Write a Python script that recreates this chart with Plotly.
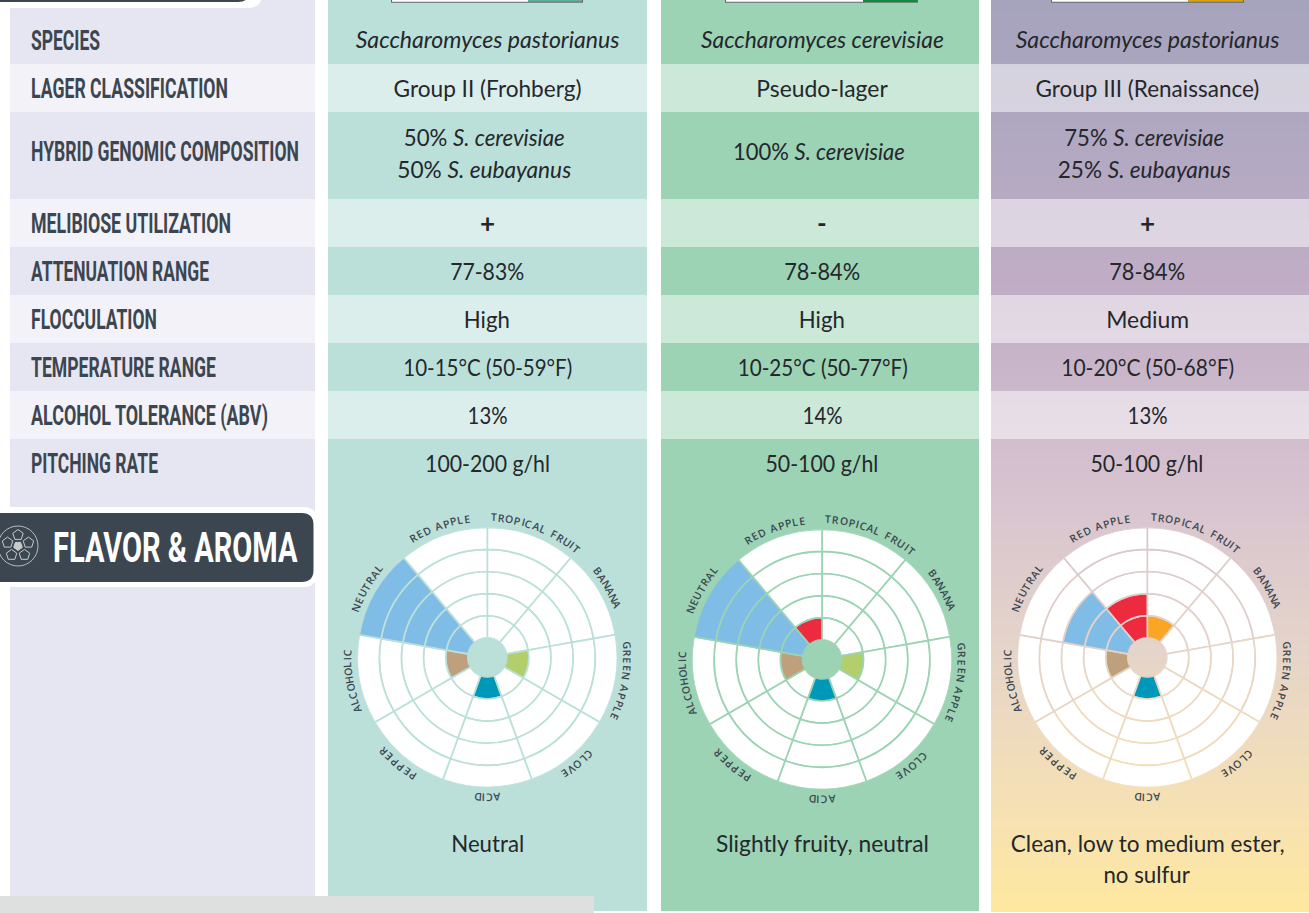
import json
import math
import plotly.graph_objects as go

W, H = 1309, 913

# ---------- data ----------
row_labels = ["SPECIES", "LAGER CLASSIFICATION", "HYBRID GENOMIC COMPOSITION", "MELIBIOSE UTILIZATION",
              "ATTENUATION RANGE", "FLOCCULATION", "TEMPERATURE RANGE", "ALCOHOL TOLERANCE (ABV)", "PITCHING RATE"]
row_label_widths = [69, 197, 268, 200, 178, 126, 185, 237, 127]
col1_values = ["<i>Saccharomyces pastorianus</i>", "Group II (Frohberg)",
               ["50% <i>S. cerevisiae</i>", "50% <i>S. eubayanus</i>"], "<b>+</b>", "77-83%", "High",
               "10-15°C (50-59°F)", "13%", "100-200 g/hl"]
col2_values = ["<i>Saccharomyces cerevisiae</i>", "Pseudo-lager", ["100% <i>S. cerevisiae</i>"], "<b>-</b>", "78-84%", "High",
               "10-25°C (50-77°F)", "14%", "50-100 g/hl"]
col3_values = ["<i>Saccharomyces pastorianus</i>", "Group III (Renaissance)",
               ["75% <i>S. cerevisiae</i>", "25% <i>S. eubayanus</i>"], "<b>+</b>", "78-84%", "Medium",
               "10-20°C (50-68°F)", "13%", "50-100 g/hl"]
flavor_categories = ["TROPICAL FRUIT", "BANANA", "GREEN APPLE", "CLOVE", "ACID", "PEPPER", "ALCOHOLIC", "NEUTRAL", "RED APPLE"]
flavor_colors = ["#faa625", "#f7d154", "#b3cf6c", "#c9a0c0", "#0098b8", "#888888", "#bfa07c", "#7fbde6", "#ee2a3f"]
col1_flavor = [0, 0, 1, 0, 1, 0, 1, 5, 0]
col2_flavor = [0, 0, 1, 0, 1, 0, 1, 5, 1]
col3_flavor = [1, 0, 0, 0, 1, 0, 1, 3, 2]
col1_note = ["Neutral"]
col2_note = ["Slightly fruity, neutral"]
col3_note = ["Clean, low to medium ester,", "no sulfur"]

# text widths, used to fit the substitute fonts
body_widths = {
    "Saccharomyces pastorianus": 264, "Saccharomyces cerevisiae": 243,
    "Group II (Frohberg)": 188, "Pseudo-lager": 132, "Group III (Renaissance)": 224,
    "50% S. cerevisiae": 161, "50% S. eubayanus": 174, "100% S. cerevisiae": 172,
    "75% S. cerevisiae": 160, "25% S. eubayanus": 173,
    "77-83%": 74, "78-84%": 76, "High": 46, "Medium": 83,
    "10-15°C (50-59°F)": 169, "10-25°C (50-77°F)": 170, "10-20°C (50-68°F)": 173,
    "13%": 40, "14%": 40, "100-200 g/hl": 125, "50-100 g/hl": 113,
    "Neutral": 73, "Slightly fruity, neutral": 213, "Clean, low to medium ester,": 274, "no sulfur": 87,
}

BODY = "Lato"
HEAD = "Roboto"
DARK = "#3c4650"
INK = "#24272c"
BODY_SIZE = 23

row_y = [0, 64, 112, 199, 247, 295, 343, 391, 439]
row_mid = [39, 88, 151, 223, 271, 319, 367, 415, 463]
head_mid = [41, 89, 152, 224, 272, 320, 368, 416, 464]
cols = [
    dict(x0=328, x1=647, cx=487.3, cy=657.3, base="#bbe0d9", light="#dceeeb", vals=col1_values, fl=col1_flavor, note=col1_note),
    dict(x0=661, x1=979, cx=822, cy=659.3, base="#9bd3b4", light="#cce8d8", vals=col2_values, fl=col2_flavor, note=col2_note),
    dict(x0=991, x1=1309, cx=1147.3, cy=657.3, base=None, light=None, vals=col3_values, fl=col3_flavor, note=col3_note),
]

grad = [(0, (166, 163, 188)), (110, (174, 167, 192)), (300, (194, 174, 198)), (500, (216, 196, 208)),
        (650, (229, 212, 201)), (800, (245, 224, 181)), (911, (254, 232, 160))]

def grad_rgb(y):
    for (a, ca), (b, cb) in zip(grad, grad[1:]):
        if y <= b:
            t = max(0, (y - a) / (b - a))
            return tuple(round(p + (q - p) * t) for p, q in zip(ca, cb))
    return grad[-1][1]

def css(c):
    return "rgb(%d,%d,%d)" % c

shapes, ann = [], []

def rect(x0, y0, x1, y1, fill, opacity=1):
    shapes.append(dict(type="rect", xref="x", yref="y", x0=x0, x1=x1, y0=y0, y1=y1, fillcolor=fill,
                       opacity=opacity, line=dict(width=0), layer="below"))

def text(x, y, s, size, color=INK, family=BODY, anchor="center", angle=0, weight=None):
    f = dict(family=family, size=size, color=color)
    if weight:
        f["weight"] = weight
    ann.append(dict(xref="x", yref="y", x=x, y=y, text=s, showarrow=False, xanchor=anchor, yanchor="middle",
                    textangle=angle, font=f, borderpad=0, borderwidth=0))

# left column
rect(10, 0, 315, 896, "#e6e6f2")
for i in [1, 3, 5, 7]:
    rect(10, row_y[i], 315, row_y[i + 1], "#f3f2f9")
for s, y in zip(row_labels, head_mid):
    text(31, y, s, 27, DARK, HEAD, "left", weight=700)

# data columns
for c in cols:
    if c["base"]:
        rect(c["x0"], 0, c["x1"], 911, c["base"])
        for i in [1, 3, 5, 7]:
            rect(c["x0"], row_y[i], c["x1"], row_y[i + 1], c["light"])
    else:
        for y in range(0, 911, 4):
            rect(c["x0"], y, c["x1"], y + 4, css(grad_rgb(y + 2)))
        for i in [1, 3, 5, 7]:
            rect(c["x0"], row_y[i], c["x1"], row_y[i + 1], "#ffffff", 0.5)
    for v, y in zip(c["vals"], row_mid):
        if isinstance(v, list) and len(v) == 2:
            text(c["cx"] - 3, y - 14, v[0], BODY_SIZE)
            text(c["cx"] - 3, y + 18, v[1], BODY_SIZE)
        elif isinstance(v, list):
            text(c["cx"] - 3, y, v[0], BODY_SIZE)
        elif v.startswith("<b>"):
            text(c["cx"], y, v, BODY_SIZE + 3)
        else:
            text(c["cx"], y, v, BODY_SIZE)
    text(c["cx"], 843, c["note"][0], BODY_SIZE)
    if len(c["note"]) > 1:
        text(c["cx"], 874, c["note"][1], BODY_SIZE)

# small top swatches
for x0, x1, split, col in [(392, 582, 528, "#5fae98"), (726, 917, 863, "#0f8a37"), (1052, 1243, 1188, "#d9a30f")]:
    rect(x0 - 1, 0, x1 + 1, 2.8, "#666a70")
    rect(x0, 0, split, 1.8, "#ffffff")
    rect(split, 0, x1, 1.8, col)

# top-left dark tab
def round_right(x1, y0, y1, r, fill):
    shapes.append(dict(type="path", xref="x", yref="y", layer="below", fillcolor=fill, line=dict(width=0),
                       path=f"M 0 {y0} L {x1-r} {y0} Q {x1} {y0} {x1} {y0+r} L {x1} {y1-r} Q {x1} {y1} {x1-r} {y1} L 0 {y1} Z"))

round_right(262, -20, 8, 14, "#ffffff")
round_right(250, -20, 2, 12, DARK)

# flavor badge
round_right(317, 507, 587, 14, "#ffffff")
round_right(313.5, 513, 582, 12, DARK)
BADGE = "FLAVOR & AROMA"
text(53, 547, BADGE.replace("&", "&amp;"), 42, "#ffffff", HEAD, "left", weight=700)

# badge icon
ICX, ICY = 18, 546
shapes.append(dict(type="circle", xref="x", yref="y", x0=ICX - 20, x1=ICX + 20, y0=ICY - 20, y1=ICY + 20,
                   line=dict(color="#b8bcc0", width=1), fillcolor="rgba(0,0,0,0)", layer="below"))
def pent(cx, cy, r, rot, fill, line):
    pts = [(cx + r * math.sin(math.radians(rot + 72 * k)), cy - r * math.cos(math.radians(rot + 72 * k))) for k in range(5)]
    path = "M " + " L ".join(f"{a:.1f} {b:.1f}" for a, b in pts) + " Z"
    shapes.append(dict(type="path", xref="x", yref="y", path=path, fillcolor=fill, layer="below",
                       line=dict(color=line, width=1)))
pent(ICX, ICY, 4.5, 180, "#c8cbce", "#c8cbce")
for k in range(5):
    a = math.radians(72 * k)
    pent(ICX + 11 * math.sin(a), ICY - 11 * math.cos(a), 5.5, 72 * k, "rgba(0,0,0,0)", "#c8cbce")

# bottom grey bar
rect(0, 896, 594, 913, "#dedfdf")

# curved wheel labels
R_LABEL = 140
PITCH = 7.7
LABEL_NUDGE = [1, 0, 0, 0, 0, 0, 0, 0, 0]
def char_w(ch):
    return {"I": 0.55, " ": 0.65, "M": 1.25, "L": 0.85, "T": 0.95, "O": 1.1, "C": 1.0}.get(ch, 1.0)

fig = go.Figure()
for n, c in enumerate(cols):
    r_vals, base_vals, theta_vals, cell_cols, line_cols = [], [], [], [], []
    for i, (cat, v) in enumerate(zip(flavor_categories, c["fl"])):
        th = 20 + 40 * i
        for ring in range(5):
            r_vals.append(1)
            base_vals.append(ring)
            theta_vals.append(th)
            cell_cols.append(flavor_colors[i] if ring < v else "#ffffff")
            rr = (ring + 0.5) * 22 + 19.5
            yy = c["cy"] - rr * math.cos(math.radians(th))
            line_cols.append(c["base"] or css(grad_rgb(yy)))
    fig.add_trace(go.Barpolar(r=r_vals, base=base_vals, theta=theta_vals, width=40, subplot="polar" + ("" if n == 0 else str(n + 1)),
                              marker=dict(color=cell_cols, line=dict(color=line_cols, width=1.7)), showlegend=False,
                              hoverinfo="skip"))
    pol = dict(domain=dict(x=[(c["cx"] - 130) / W, (c["cx"] + 130) / W], y=[1 - (c["cy"] + 130) / H, 1 - (c["cy"] - 130) / H]),
               bgcolor="rgba(0,0,0,0)", hole=0.15,
               radialaxis=dict(visible=False, range=[0, 5]),
               angularaxis=dict(visible=False, direction="clockwise", rotation=90))
    fig.update_layout(**{"polar" + ("" if n == 0 else str(n + 1)): pol})
    for i, cat in enumerate(flavor_categories):
        th = 20 + 40 * i + LABEL_NUDGE[i]
        widths = [char_w(ch) for ch in cat]
        total = sum(widths) * PITCH
        pos = -total / 2
        for ch, w in zip(cat, widths):
            mid = pos + w * PITCH / 2
            pos += w * PITCH
            if ch == " ":
                continue
            a = th + math.degrees(mid / R_LABEL)
            ar = math.radians(a)
            text(c["cx"] + R_LABEL * math.sin(ar), c["cy"] - R_LABEL * math.cos(ar), ch, 10.5, "#3c4650", "Open Sans", "center", a, 600)

fig.update_layout(
    width=W, height=H, margin=dict(l=0, r=0, t=0, b=0), paper_bgcolor="#ffffff", plot_bgcolor="#ffffff",
    xaxis=dict(range=[0, W], domain=[0, 1], visible=False, fixedrange=True),
    yaxis=dict(range=[H, 0], domain=[0, 1], visible=False, fixedrange=True),
    shapes=shapes, annotations=ann, showlegend=False,
)
fig.add_trace(go.Scatter(x=[0], y=[0], mode="markers", marker=dict(opacity=0), hoverinfo="skip", showlegend=False))

left_targets = dict(zip(row_labels, row_label_widths))
left_targets[BADGE] = 245
post = """
document.body.style.margin='0';document.body.style.overflow='hidden';
(function(){
  var leftT = %s, midT = %s;
  var gd = document.getElementById('{plot_id}');
  function squeeze(){
    gd.querySelectorAll('.annotation-text').forEach(function(t){
      var key = t.textContent, w = leftT[key] || midT[key];
      if(!w) return;
      t.removeAttribute('transform');
      var b = t.getBBox();
      var ox = leftT[key] ? b.x : b.x + b.width / 2;
      t.setAttribute('transform','translate('+ox+',0) scale('+(w/b.width)+',1) translate('+(-ox)+',0)');
    });
  }
  squeeze();
  if(gd.on) gd.on('plotly_afterplot', squeeze);
})();
""" % (json.dumps(left_targets), json.dumps(body_widths))
fig.write_html("out.html", config=dict(displayModeBar=False), post_script=post)
